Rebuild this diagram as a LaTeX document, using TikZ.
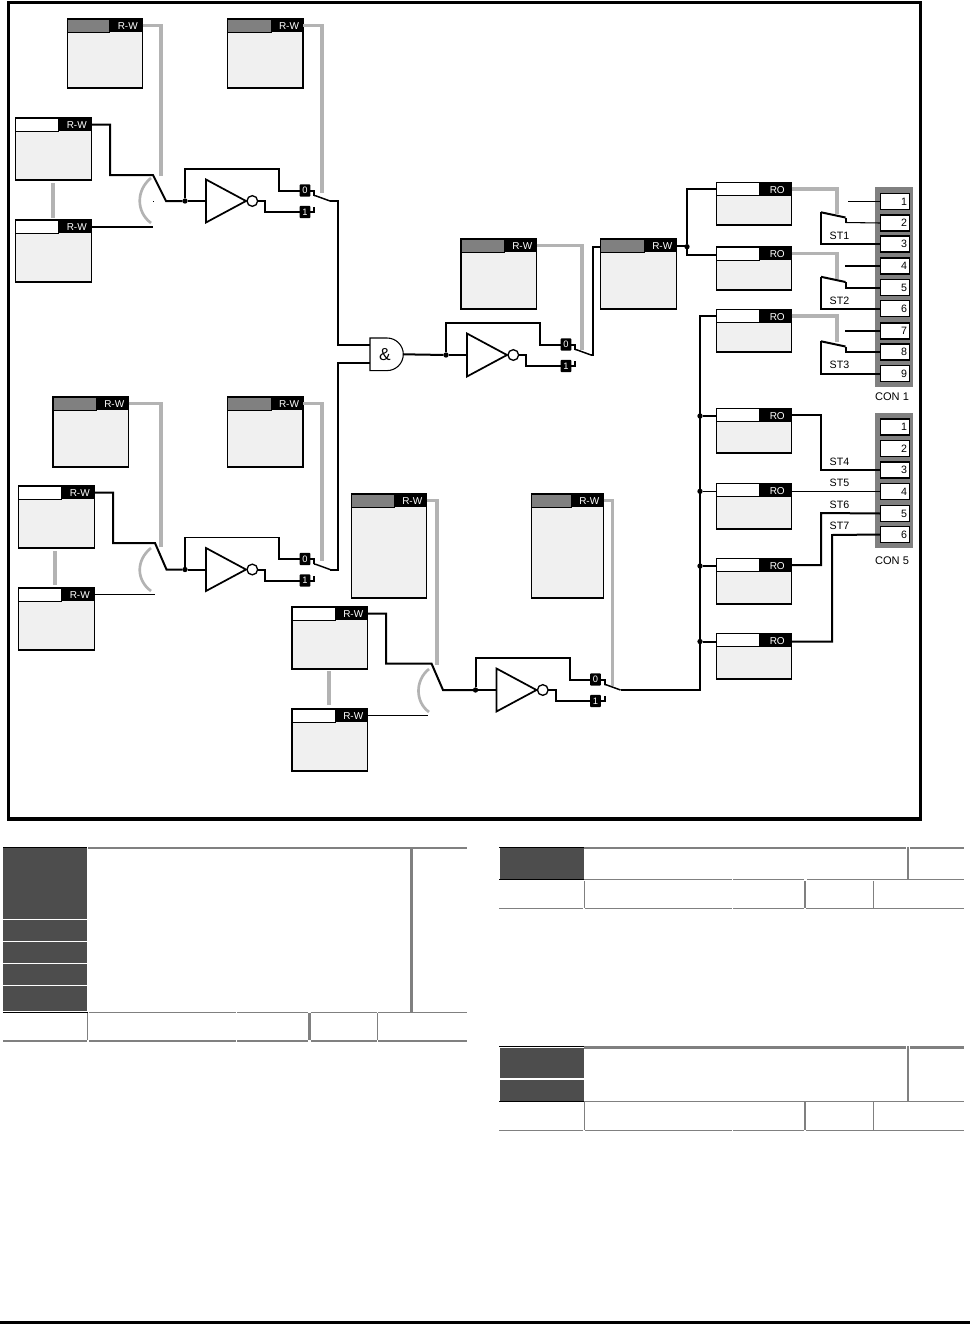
\documentclass[tikz,border=0pt]{standalone}
\usepackage{fontspec}
\setmainfont{Liberation Sans}
\definecolor{wiregray}{HTML}{B3B3B3}
\definecolor{headgray}{HTML}{808080}
\definecolor{bodygray}{HTML}{F0F0F0}
\definecolor{cellgray}{HTML}{4D4D4D}
\definecolor{rulegray}{HTML}{808080}
\tikzset{
  body/.style={draw=black,line width=0.8pt,fill=bodygray,inner sep=0pt,outer sep=0pt,anchor=north west},
  headl/.style={draw=black,line width=0.5pt,inner sep=0pt,outer sep=0pt,anchor=north west},
  headr/.style={fill=black,text=white,inner sep=0pt,outer sep=0pt,anchor=north west,font=\fontsize{7.5}{8}\selectfont},
  wire/.style={line width=1.5pt,draw=black,line join=miter},
  thinwire/.style={line width=0.8pt,draw=black},
  graywire/.style={line width=2.3pt,draw=wiregray},
  grayarc/.style={line width=2pt,draw=wiregray},
  gate/.style={draw=black,line width=1.3pt,line join=miter},
  bubble/.style={circle,draw=black,line width=1pt,fill=white,minimum size=8pt,inner sep=0pt,outer sep=0pt},
  junction/.style={circle,fill=black,minimum size=4pt,inner sep=0pt,outer sep=0pt},
  flagbox/.style={fill=black,text=white,rounded corners=0.6pt,minimum width=8pt,minimum height=9.2pt,inner sep=0pt,outer sep=0pt,font=\fontsize{7}{8}\selectfont},
  panel/.style={fill=headgray,inner sep=0pt,outer sep=0pt,anchor=north west},
  term/.style={draw=black,line width=0.8pt,fill=white,inner sep=0pt,outer sep=0pt,anchor=north west,minimum width=21.5pt,minimum height=12pt},
  termnum/.style={inner sep=0pt,anchor=east,font=\fontsize{8}{9}\selectfont},
  lbl/.style={inner sep=0pt,font=\fontsize{8}{9}\selectfont},
  conlbl/.style={inner sep=0pt,font=\fontsize{8.3}{9}\selectfont},
  darkcell/.style={fill=cellgray,inner sep=0pt,outer sep=0pt,anchor=north west},
  rule/.style={draw=rulegray,line width=1pt},
  rulethick/.style={draw=rulegray,line width=1.8pt},
  ruleblack/.style={draw=black,line width=1pt}
}
% name, x1, y1, x2, y2, x of the black tab, colour of the left tab, label
\newcommand{\blk}[8]{%
  \node[body,minimum width={(#4-#2)*0.75pt},minimum height={(#5-#3)*0.75pt}] (#1) at (#2,#3) {};
  \node[headl,fill=#7,minimum width={(#6-#2)*0.75pt},minimum height=9.75pt] (#1-l) at (#2,#3) {};
  \node[headr,minimum width={(#4-#6)*0.75pt},minimum height=9.75pt] (#1-h) at (#6,#3) {\hspace{3pt}\raisebox{-3.2pt}[0pt][0pt]{#8}};
}
% name, x of inverter input, y, option for upper wire
\newcommand{\invunit}[4]{%
  \coordinate (#1-i) at (#2,#3);
  \coordinate (#1-o) at ({#2+124.5},#3);
  \node[junction] (#1-d) at ({#2-20.5},#3) {};
  \draw[gate,fill=white] ({#2+0.5},{#3-21.5}) -- ({#2+0.5},{#3+21.5}) -- ({#2+40.5},#3) -- cycle;
  \node[bubble] (#1-b) at ({#2+46.8},#3) {};
  \node[flagbox] (#1-0) at ({#2+99.5},{#3-10.5}) {0};
  \node[flagbox] (#1-1) at ({#2+99.5},{#3+11}) {1};
  \coordinate (#1-a) at ({#2+108.5},{#3-5.5});
  \coordinate (#1-c) at ({#2+108.5},{#3+6});
  \draw[wire] (#1-d) -- (#1-i);
  \draw[#4] (#1-d) -- ({#2-20.5},{#3-32}) -| ({#2+73.5},{#3-10.5}) -- (#1-0);
  \draw[wire] (#1-b) -| ({#2+59.5},{#3+11}) -- (#1-1);
  \draw[wire] (#1-0) -| (#1-a);
  \draw[wire] (#1-1) -| (#1-c);
  \draw[thinwire,line width=1.1pt] (#1-a) -- ++(2,0.4) -- (#1-o);
}
\begin{document}
\begin{tikzpicture}[x=0.75pt,y=-0.75pt]
\useasboundingbox (0,0) rectangle (970,1324);
\fill[white] (0,0) rectangle (970,1324);
% frame
\draw[line width=2.8pt] (8.5,2.5) rectangle (920.5,819);

% blocks, upper left group
\blk{a1}{67.5}{19}{142.5}{88}{109}{headgray}{R-W}
\blk{a2}{227.5}{19}{303}{88}{271}{headgray}{R-W}
\blk{a3}{15.5}{118}{91.5}{180}{58}{white}{R-W}
\blk{a4}{15.5}{220}{91.5}{282}{58}{white}{R-W}
% blocks, lower left group
\blk{b1}{53}{397}{128.5}{467}{96}{headgray}{R-W}
\blk{b2}{227.5}{397}{303}{467}{271}{headgray}{R-W}
\blk{b3}{18.5}{486}{94.5}{548}{61}{white}{R-W}
\blk{b4}{18.5}{588}{94.5}{650}{61}{white}{R-W}
% blocks, middle
\blk{m1}{461}{239}{536.5}{309}{504}{headgray}{R-W}
\blk{m2}{600.5}{239}{676.5}{309}{644}{headgray}{R-W}
% blocks, bottom group
\blk{c1}{351.5}{494}{426.5}{598}{394}{headgray}{R-W}
\blk{c2}{531.5}{494}{603.5}{598}{571}{headgray}{R-W}
\blk{c3}{292}{607}{367.5}{669}{335}{white}{R-W}
\blk{c4}{292}{709}{367.5}{771}{335}{white}{R-W}
% blocks, read-only
\blk{r1}{716.5}{182.5}{791.5}{225}{759}{white}{RO}
\blk{r2}{716.5}{247}{791.5}{290}{759}{white}{RO}
\blk{r3}{716.5}{309.5}{791.5}{352}{759}{white}{RO}
\blk{r4}{716.5}{408.5}{791.5}{453}{759}{white}{RO}
\blk{r5}{716.5}{483.5}{791.5}{529}{759}{white}{RO}
\blk{r6}{716.5}{558.5}{791.5}{604}{759}{white}{RO}
\blk{r7}{716.5}{633.5}{791.5}{679}{759}{white}{RO}

% connector panels
\node[panel,minimum width=28.5pt,minimum height=150pt] (con1) at (875,187) {};
\node[panel,minimum width=28.5pt,minimum height=101.25pt] (con5) at (875,412.7) {};
\foreach \n/\yy in {1/193.5,2/215,3/236,4/258,5/279.5,6/300.5,7/323,8/344,9/365.5}{
  \node[term] (p\n) at (880.5,\yy) {};
  \node[termnum] at ([xshift=-1.3pt]p\n.east) {\n};
}
\foreach \n/\yy in {1/419,2/440.5,3/462,4/483.5,5/505.5,6/526.5}{
  \node[term] (q\n) at (880.5,\yy) {};
  \node[termnum] at ([xshift=-1.3pt]q\n.east) {\n};
}
\node[conlbl] (lc1) at (892,396.7) {CON 1};
\node[conlbl] (lc5) at (892,560.7) {CON 5};

% inverter units
\invunit{u1}{205.5}{201}{wire}
\invunit{u2}{205.5}{569.5}{thinwire}
\invunit{u3}{466.5}{355}{wire}
\invunit{u4}{496}{690}{wire}

% AND gate
\coordinate (and-a) at (370,345);
\coordinate (and-b) at (370,363);
\coordinate (and-o) at (403,354.3);
\draw[draw=black,line width=0.8pt,fill=white] (370,338) -- (387,338) arc (-90:90:16.3) -- (370,370.6) -- cycle;
\node[inner sep=0pt,font=\fontsize{13}{14}\selectfont] (and) at (385,354.5) {\&};

% selectors on the inverter units' inputs
\coordinate (s1t) at (153,175);
\coordinate (s1p) at (166,201);
\coordinate (s1b) at (153,228);
\coordinate (s2t) at (155,543);
\coordinate (s2p) at (166.5,569.5);
\coordinate (s2b) at (155,596);
\coordinate (s4t) at (431.5,663.5);
\coordinate (s4p) at (443,690);
\coordinate (s4b) at (428,717);
\draw[wire] (a3-h.east) -| (110,175) -- (s1t) -- (s1p) -- (u1-d);
\draw[wire] (a4-h.east) -- (a4-h.east -| s1b);
\draw[wire] (b3-h.east) -| (113,543) -- (s2t) -- (s2p) -- (u2-d);
\draw[thinwire] (b4-h.east) -- (b4-h.east -| s2b);
\draw[wire] (c3-h.east) -| (386,663.5) -- (s4t) -- (s4p) -- (u4-d);
\draw[thinwire] (c4-h.east) -- (c4-h.east -| s4b);
\fill (153,201) rectangle (153.7,201.7);

% gray links
\draw[graywire] (a1-h.east) -| (161,176);
\draw[graywire] (a2-h.east) -| (322,193);
\draw[graywire] (53,183) -- (53,217.5);
\draw[graywire] (b1-h.east) -| (161,547);
\draw[graywire] (b2-h.east) -| (322,561);
\draw[graywire] (55,551) -- (55,585);
\draw[graywire] (m1-h.east) -| (582,350);
\draw[graywire] (c1-h.east) -| (437,665);
\draw[graywire] (c2-h.east) -| (612.5,686);
\draw[graywire] (329,671) -- (329,705);
\draw[grayarc] (151,178) .. controls (136,190) and (136,212) .. (151,223);
\draw[grayarc] (151,548) .. controls (136,560) and (136,580) .. (151,591);
\draw[grayarc] (429,669) .. controls (415,680) and (415,702) .. (429,712);

% into the AND gate and onward
\draw[wire] (u1-o) -- (338,201) |- (and-a);
\draw[wire] (u2-o) -- (338,569.5) |- (and-b);
\draw[wire] (and-o) -- (u3-d);
\node[junction] (j1) at (687,246.7) {};
\draw[wire] (u3-o) -- (593,355) |- (m2.west |- 0,246.5);
\draw[wire] (m2-h.east) -- (m2-h.east -| j1);
\draw[wire] (j1) |- (r1.west |- 0,188.5);
\draw[wire] (j1) |- (r2.west |- 0,255);

% output bus
\node[junction] (j4) at (700,416) {};
\node[junction] (j5) at (700,491.3) {};
\node[junction] (j6) at (700,566) {};
\node[junction] (j7) at (700,641.5) {};
\draw[wire] (u4-o) -- (700,690) |- (r3.west |- 0,316);
\draw[thinwire] (j4) -- (r4.west |- j4);
\draw[thinwire] (j5) -- (r5.west |- j5);
\draw[wire] (j6) -- (r6.west |- j6);
\draw[wire] (j7) -- (r7.west |- j7);

% contacts ST1..ST3
\foreach \b/\dy/\pc/\gy in {r1/0/p3/214,r2/64.5/p6/279,r3/129/p9/342}{
  \draw[graywire] (\b-h.east) -| (837,\gy);
  \draw[wire] (821,{212.3+\dy}) -- (845.5,{217.5+\dy});
  \draw[wire] (821,{212.3+\dy}) |- (\pc.west);
}
\draw[wire] (845.5,217.8) -- (845.5,222.5);
\draw[thinwire] (845.5,222.5) -- (p2.west);
\draw[wire] (845.5,282) |- (p5.west);
\draw[wire] (845.5,346.5) |- (p8.west);
\draw[thinwire] (848,201.5) -- (p1.west);
\draw[wire] (845,266) -- (p4.west);
\draw[wire] (845,331) -- (p7.west);
\node[lbl] (st1) at (839.5,236.2) {ST1};
\node[lbl] (st2) at (839.5,300.5) {ST2};
\node[lbl] (st3) at (839.5,364.5) {ST3};

% outputs ST4..ST7
\draw[wire] (r4-h.east) -| (821,470) -- (q3.west);
\draw[thinwire] (r5.east |- q4.west) -- (q4.west);
\draw[wire] (r6-h.east) -| (821,513) -- (q5.west);
\draw[wire] (r7.east |- j7) -| (832,535) -- (q6.west);
\node[lbl] (st4) at (839.5,461.5) {ST4};
\node[lbl] (st5) at (839.5,482.5) {ST5};
\node[lbl] (st6) at (839.5,504.5) {ST6};
\node[lbl] (st7) at (839.5,525.5) {ST7};

% table 1
\foreach \yy/\hh in {848/71,920/21,942/21,964/21,986/25}{
  \node[darkcell,minimum width=63pt,minimum height={\hh*0.75pt}] at (3,\yy) {};
}
\draw[ruleblack] (3,847.5) -- (87,847.5);
\draw[rulegray,line width=1.5pt] (88,848) -- (467,848);
\draw[rulegray,line width=2.2pt] (411.5,849) -- (411.5,1012);
\draw[ruleblack] (3,1012.3) -- (87.5,1012.3);
\draw[rule] (88.5,1012.3) -- (235.5,1012.3) (237,1012.3) -- (308,1012.3) (310.5,1012.3) -- (376.5,1012.3) (378,1012.3) -- (467,1012.3);
\draw[rule] (87.7,1013) -- (87.7,1040);
\draw[rulethick] (309.3,1013) -- (309.3,1040);
\draw[rule] (377.5,1013) -- (377.5,1040);
\draw[rule] (3,1041) -- (87,1041) (89,1041) -- (235.5,1041) (237,1041) -- (308,1041) (310.5,1041) -- (376.5,1041) (378,1041) -- (467,1041);

% table 2
\node[darkcell,minimum width=63pt,minimum height=23.5pt] at (499.7,848) {};
\draw[ruleblack] (499,847.5) -- (584,847.5);
\draw[rulegray,line width=1.5pt] (584,848) -- (906,848) (910,848) -- (964,848);
\draw[rulegray,line width=1.7pt] (908,847) -- (908,879);
\draw[ruleblack] (499,879.7) -- (584,879.7);
\draw[rule] (584,879.7) -- (731.5,879.7) (733,879.7) -- (804,879.7) (807,879.7) -- (964,879.7);
\draw[rule] (584.5,881) -- (584.5,908);
\draw[rulethick] (805,881) -- (805,908);
\draw[rule] (873.5,881) -- (873.5,908);
\draw[rule] (499,908.5) -- (583,908.5) (585,908.5) -- (731.5,908.5) (733,908.5) -- (804,908.5) (806,908.5) -- (964,908.5);

% table 3
\node[darkcell,minimum width=63pt,minimum height=22.5pt] at (499.7,1048.3) {};
\node[darkcell,minimum width=63pt,minimum height=16pt] at (499.7,1079.5) {};
\draw[ruleblack] (499,1046.5) -- (584,1046.5);
\draw[rulegray,line width=2pt] (584,1047.5) -- (906,1047.5) (910,1047.5) -- (964,1047.5);
\draw[rulegray,line width=1.7pt] (908,1046) -- (908,1101);
\draw[ruleblack] (499,1101.2) -- (584,1101.2);
\draw[rule] (584,1101.2) -- (964,1101.2);
\draw[rule] (584.5,1102) -- (584.5,1130);
\draw[rulethick] (805,1102) -- (805,1130);
\draw[rule] (873.5,1102) -- (873.5,1130);
\draw[rule] (499,1130.5) -- (583,1130.5) (585,1130.5) -- (731.5,1130.5) (733,1130.5) -- (804,1130.5) (806,1130.5) -- (964,1130.5);

% page rule
\fill[black] (0,1321) rectangle (970,1324);
\end{tikzpicture}
\end{document}
